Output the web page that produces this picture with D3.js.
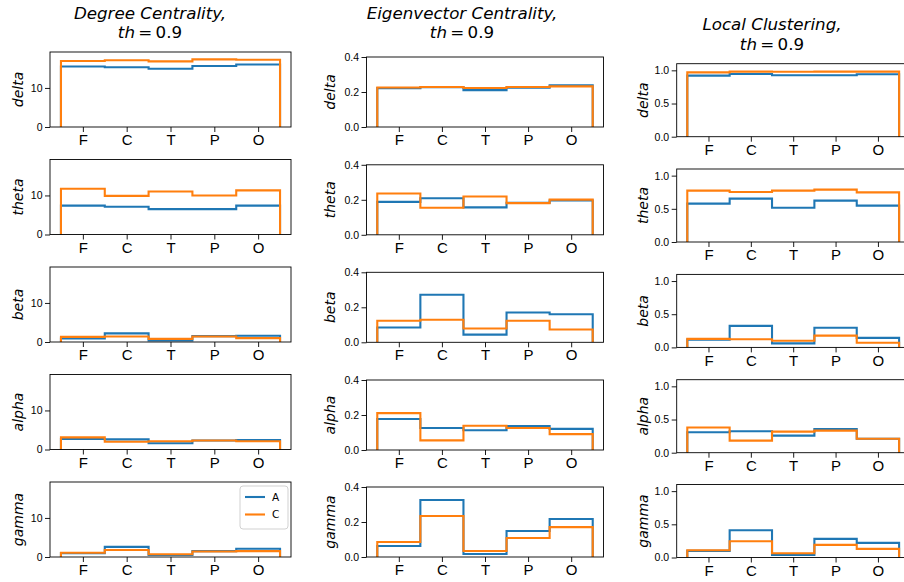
<!DOCTYPE html>
<html>
<head>
<meta charset="utf-8">
<script src="https://cdn.jsdelivr.net/npm/d3@7"></script>
<style>
  html, body { margin: 0; padding: 0; background: #fff; }
  svg { display: block; font-family: "DejaVu Sans", sans-serif; }
</style>
</head>
<body>
<svg id="chart" width="904" height="582"></svg>
<script>
// ---------------- DATA ----------------
const categories = ["F", "C", "T", "P", "O"];
const bands = ["delta", "theta", "beta", "alpha", "gamma"];
const seriesNames = ["A", "C"];
const metricTitles = ["Degree Centrality,", "Eigenvector Centrality,", "Local Clustering,"];
const thresholdLabel = "0.9";

// Degree centrality (rows: delta, theta, beta, alpha, gamma; cols: F C T P O)
const degreeA = [
  [15.5, 15.3, 14.9, 15.6, 16.0],
  [7.4, 7.1, 6.5, 6.5, 7.4],
  [0.9, 2.2, 0.4, 1.5, 1.6],
  [2.7, 2.6, 1.6, 2.3, 2.4],
  [1.0, 2.6, 0.5, 1.5, 2.1]
];
const degreeC = [
  [16.9, 17.1, 16.8, 17.3, 17.2],
  [11.7, 9.9, 11.0, 10.0, 11.3],
  [1.3, 1.4, 0.8, 1.4, 1.0],
  [3.1, 2.0, 2.1, 2.3, 2.1],
  [1.1, 1.8, 0.7, 1.4, 1.5]
];
// Eigenvector centrality
const eigenA = [
  [0.222, 0.228, 0.211, 0.225, 0.238],
  [0.188, 0.209, 0.157, 0.183, 0.196],
  [0.085, 0.272, 0.044, 0.170, 0.160],
  [0.177, 0.126, 0.113, 0.137, 0.121],
  [0.063, 0.326, 0.017, 0.149, 0.217]
];
const eigenC = [
  [0.226, 0.229, 0.223, 0.229, 0.232],
  [0.236, 0.155, 0.219, 0.181, 0.201],
  [0.123, 0.129, 0.079, 0.123, 0.073],
  [0.211, 0.055, 0.139, 0.126, 0.091],
  [0.086, 0.234, 0.034, 0.109, 0.171]
];
// Local clustering
const clusterA = [
  [0.920, 0.945, 0.925, 0.925, 0.940],
  [0.578, 0.653, 0.517, 0.623, 0.548],
  [0.117, 0.325, 0.060, 0.295, 0.143],
  [0.309, 0.324, 0.258, 0.355, 0.210],
  [0.100, 0.410, 0.040, 0.280, 0.220]
];
const clusterC = [
  [0.970, 0.980, 0.978, 0.980, 0.980],
  [0.774, 0.754, 0.774, 0.789, 0.748],
  [0.128, 0.122, 0.100, 0.178, 0.070],
  [0.379, 0.182, 0.318, 0.333, 0.210],
  [0.110, 0.245, 0.065, 0.190, 0.130]
];
const yTicksDegree = [0, 10];
const yTicksEigen = [0, 0.2, 0.4];
const yTicksCluster = [0, 0.5, 1.0];

// ---------------- LAYOUT ----------------
const colors = ["#1f77b4", "#ff7f0e"];
const columns = [
  { A: degreeA, C: degreeC, ticks: yTicksDegree, fmt: d3.format("d"), ymax: 19.2,
    left: 50, width: 241, height: 75, bottoms: [127, 234.5, 342, 449.5, 557],
    ylabX: 23, titleX: 150, titleY: [19, 38] },
  { A: eigenA, C: eigenC, ticks: yTicksEigen, fmt: d3.format(".1f"), ymax: 0.4,
    left: 366.5, width: 237, height: 70, bottoms: [127, 234.8, 342.3, 450, 557],
    ylabX: 335, titleX: 462, titleY: [19, 38] },
  { A: clusterA, C: clusterC, ticks: yTicksCluster, fmt: d3.format(".1f"), ymax: 1.1,
    left: 676.7, width: 233, height: 73, bottoms: [136.7, 242, 347.4, 452.7, 557.5],
    ylabX: 648, titleX: 772, titleY: [30, 49.5] }
];

const svg = d3.select("#chart");

columns.forEach((col, ci) => {
  // title
  const t = svg.append("text")
    .attr("x", col.titleX).attr("text-anchor", "middle")
    .style("font-size", "16.7px").attr("fill", "#000");
  t.append("tspan").attr("x", col.titleX).attr("y", col.titleY[0])
    .style("font-style", "italic").text(metricTitles[ci]);
  const l2 = t.append("tspan").attr("x", col.titleX).attr("y", col.titleY[1]);
  l2.append("tspan").style("font-style", "italic").text("th");
  l2.append("tspan").text("\u2009=\u2009" + thresholdLabel);

  const x = d3.scaleLinear().domain([-0.75, 4.75]).range([col.left, col.left + col.width]);

  bands.forEach((band, ri) => {
    const bottom = col.bottoms[ri];
    const top = bottom - col.height;
    const y = d3.scaleLinear().domain([0, col.ymax]).range([bottom, top]);
    const g = svg.append("g");

    // axes
    const xAxis = d3.axisBottom(x).tickValues(d3.range(categories.length))
      .tickFormat(i => categories[i]).tickSize(5).tickPadding(2.5);
    const gx = g.append("g").attr("transform", `translate(0,${bottom})`).call(xAxis);
    gx.select(".domain").remove();
    gx.selectAll("text").style("font-size", "15px").attr("fill", "#000");
    gx.selectAll("line").attr("stroke", "#000").attr("stroke-width", 0.9);

    const yAxis = d3.axisLeft(y).tickValues(col.ticks).tickFormat(col.fmt)
      .tickSize(5).tickPadding(2.5);
    const gy = g.append("g").attr("transform", `translate(${col.left},0)`).call(yAxis);
    gy.select(".domain").remove();
    gy.selectAll("text").style("font-size", "10.5px").attr("fill", "#000");
    gy.selectAll("line").attr("stroke", "#000").attr("stroke-width", 0.9);

    // clip
    const clipId = `clip-${ci}-${ri}`;
    g.append("clipPath").attr("id", clipId).append("rect")
      .attr("x", col.left).attr("y", top).attr("width", col.width).attr("height", col.height);

    // stairs
    const line = d3.line().x(d => x(d[0])).y(d => y(d[1]));
    [col.A[ri], col.C[ri]].forEach((vals, si) => {
      const pts = [[-0.5, 0]];
      vals.forEach((v, i) => { pts.push([i - 0.5, v]); pts.push([i + 0.5, v]); });
      pts.push([vals.length - 0.5, 0]);
      g.append("path").attr("d", line(pts))
        .attr("fill", "none").attr("stroke", colors[si]).attr("stroke-width", 2.1)
        .attr("stroke-linejoin", "miter").attr("clip-path", `url(#${clipId})`);
    });

    // frame
    g.append("rect").attr("x", col.left).attr("y", top)
      .attr("width", col.width).attr("height", col.height)
      .attr("fill", "none").attr("stroke", "#000").attr("stroke-width", 0.9);

    // y label
    g.append("text")
      .attr("transform", `translate(${col.ylabX},${(top + bottom) / 2}) rotate(-90)`)
      .attr("text-anchor", "middle")
      .style("font-size", "14px").style("font-style", "italic").attr("fill", "#000")
      .text(band);

    // legend
    if (ci === 0 && ri === bands.length - 1) {
      const lg = g.append("g").attr("transform", `translate(${col.left + col.width - 51},${top + 4})`);
      lg.append("rect").attr("x", 0).attr("y", 0).attr("width", 48).attr("height", 43)
        .attr("rx", 3).attr("fill", "#fff").attr("fill-opacity", 0.8)
        .attr("stroke", "#ccc").attr("stroke-width", 0.9);
      seriesNames.forEach((s, i) => {
        const yy = 11 + i * 17.5;
        lg.append("line").attr("x1", 5).attr("x2", 25).attr("y1", yy).attr("y2", yy)
          .attr("stroke", colors[i]).attr("stroke-width", 2.1);
        lg.append("text").attr("x", 32).attr("y", yy + 3.8)
          .style("font-size", "10.5px").attr("fill", "#000").text(s);
      });
    }
  });
});
</script>
</body>
</html>
